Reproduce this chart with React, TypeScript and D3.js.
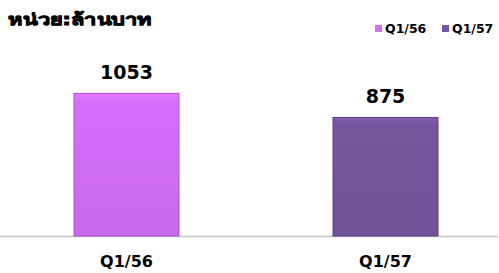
import React, { useEffect, useRef } from "react";
import * as d3 from "d3";

// chart data
const categories = ["Q1/56", "Q1/57"];
const values = [1053, 875];
const colors = ["#d46ffa", "#76569f"];
const edgeColors = ["#b050d8", "#5a3f80"];
const unitLabel = "หน่วย:ล้านบาท";

const width = 499;
const height = 273;

const App: React.FC = () => {
    const svgRef = useRef<SVGSVGElement>(null);

    useEffect(() => {
        if (!svgRef.current) return;
        const svg = d3.select(svgRef.current);
        svg.selectAll("*").remove();

        const font = "Tahoma, 'DejaVu Sans', sans-serif";
        const baseY = 236;

        const x = d3.scaleBand().domain(categories).range([0, 512]).paddingInner(0.5946).paddingOuter(0.2857);
        const y = d3.scaleLinear().domain([0, 1200]).range([baseY, baseY - 1200 * 0.1355]);

        // gradients for the bevelled bars
        const defs = svg.append("defs");
        categories.forEach((c, i) => {
            const g = defs.append("linearGradient")
                .attr("id", `grad${i}`)
                .attr("x1", 0).attr("y1", 0).attr("x2", 0).attr("y2", 1);
            g.append("stop").attr("offset", "0%").attr("stop-color", d3.color(colors[i])!.brighter(0.25).formatHex());
            g.append("stop").attr("offset", "6%").attr("stop-color", colors[i]);
            g.append("stop").attr("offset", "100%").attr("stop-color", d3.color(colors[i])!.darker(0.15).formatHex());
        });

        // baseline
        svg.append("line")
            .attr("x1", 0).attr("x2", 498)
            .attr("y1", baseY + 0.5).attr("y2", baseY + 0.5)
            .attr("stroke", "#c6c6c6")
            .attr("stroke-width", 1.5);

        // bars
        svg.selectAll("rect.bar")
            .data(values)
            .enter()
            .append("rect")
            .attr("class", "bar")
            .attr("x", (d, i) => x(categories[i])!)
            .attr("y", d => y(d))
            .attr("width", x.bandwidth())
            .attr("height", d => baseY - y(d))
            .attr("fill", (d, i) => `url(#grad${i})`)
            .attr("stroke", (d, i) => edgeColors[i])
            .attr("stroke-width", 1);

        // value labels
        svg.selectAll("text.val")
            .data(values)
            .enter()
            .append("text")
            .attr("class", "val")
            .attr("x", (d, i) => x(categories[i])! + x.bandwidth() / 2)
            .attr("y", d => y(d) - 14)
            .attr("text-anchor", "middle")
            .attr("font-family", font)
            .attr("font-weight", "bold")
            .attr("font-size", 19)
            .attr("fill", "#000")
            .text(d => d);

        // category labels
        svg.selectAll("text.cat")
            .data(categories)
            .enter()
            .append("text")
            .attr("class", "cat")
            .attr("x", d => x(d)! + x.bandwidth() / 2)
            .attr("y", 267)
            .attr("text-anchor", "middle")
            .attr("font-family", font)
            .attr("font-weight", "bold")
            .attr("font-size", 16)
            .attr("fill", "#000")
            .text(d => d);

        // unit title
        svg.append("text")
            .attr("x", 8)
            .attr("y", 25)
            .attr("font-family", font)
            .attr("font-weight", "bold")
            .attr("font-size", 16)
            .attr("textLength", 144)
            .attr("lengthAdjust", "spacingAndGlyphs")
            .attr("fill", "#000")
            .attr("stroke", "#000")
            .attr("stroke-width", 0.9)
            .text(unitLabel);

        // legend
        const legendX = [375, 442];
        categories.forEach((c, i) => {
            svg.append("rect")
                .attr("x", legendX[i]).attr("y", 25)
                .attr("width", 7).attr("height", 7)
                .attr("fill", colors[i]);
            svg.append("text")
                .attr("x", legendX[i] + 10)
                .attr("y", 33)
                .attr("font-family", font)
                .attr("font-weight", "bold")
                .attr("font-size", 12.5)
                .attr("fill", "#000")
                .text(c);
        });
    }, []);

    return (
        <svg
            ref={svgRef}
            width={width}
            height={height}
            style={{ position: "absolute", left: 0, top: 0, background: "#fff" }}
        ></svg>
    );
};

export default App;
